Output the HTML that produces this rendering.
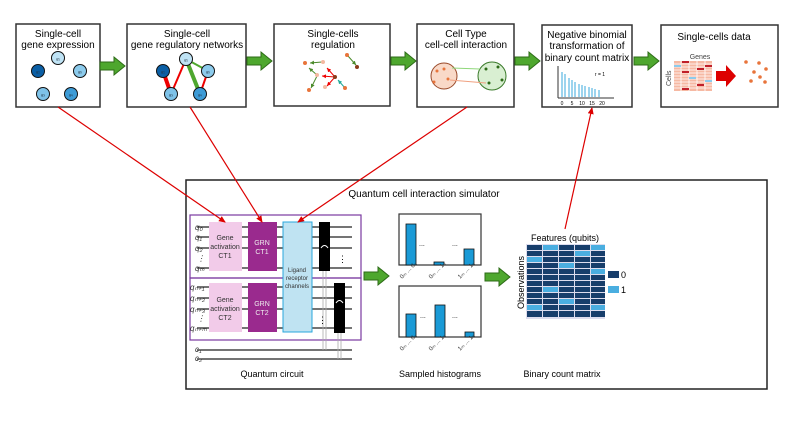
<!DOCTYPE html>
<html><head><meta charset="utf-8"><style>
body{margin:0;background:#fff;}
svg{display:block;font-family:"Liberation Sans",sans-serif;}
</style></head><body>
<svg width="793" height="446" viewBox="0 0 793 446" xmlns="http://www.w3.org/2000/svg">
<defs>
<marker id="ar" markerWidth="8" markerHeight="8" refX="6" refY="3" orient="auto" markerUnits="userSpaceOnUse"><path d="M0,0 L7,3 L0,6 Z" fill="#d00"/></marker>
<marker id="sm" markerWidth="5" markerHeight="5" refX="4" refY="2" orient="auto" markerUnits="userSpaceOnUse"><path d="M0,0 L4,2 L0,4 Z" fill="context-stroke"/></marker>
<g id="garr"><path d="M0,-4 L14,-4 L14,-9 L25,0 L14,9 L14,4 L0,4 Z" fill="#4ea72e" stroke="#2d6b17" stroke-width="1"/></g>
</defs>
<g fill="#fff" stroke="#333" stroke-width="1.5">
<rect x="16" y="24" width="84" height="83"/>
<rect x="127" y="24" width="119" height="83"/>
<rect x="274" y="24" width="116" height="82"/>
<rect x="417" y="24" width="97" height="83"/>
<rect x="542" y="25" width="90" height="82"/>
<rect x="661" y="25" width="117" height="82"/>
</g>
<use href="#garr" x="100" y="66"/><use href="#garr" x="247" y="61"/><use href="#garr" x="391" y="61"/><use href="#garr" x="515" y="61"/><use href="#garr" x="634" y="61"/>
<g font-size="10" text-anchor="middle" fill="#000">
<text x="58" y="37">Single-cell</text><text x="58" y="48">gene expression</text>
<text x="187" y="37">Single-cell</text><text x="187" y="48">gene regulatory networks</text>
<text x="333" y="37">Single-cells</text><text x="333" y="48">regulation</text>
<text x="466" y="37">Cell Type</text><text x="466" y="48">cell-cell interaction</text>
<text x="587" y="38">Negative binomial</text><text x="587" y="49">transformation of</text><text x="587" y="61">binary count matrix</text>
<text x="714" y="40">Single-cells data</text>
</g>
<g stroke="#111" stroke-width="1">
<circle cx="58" cy="58" r="6.5" fill="#bfe3f5"/><circle cx="38" cy="71" r="6.5" fill="#0b5fa5"/><circle cx="80" cy="71" r="6.5" fill="#8ccbec"/>
<circle cx="43" cy="94" r="6.5" fill="#7ec2e8"/><circle cx="71" cy="94" r="6.5" fill="#3d9bd6"/>
</g>
<g stroke-linecap="round">
<line x1="163" y1="71" x2="171" y2="94" stroke="#e00" stroke-width="4"/>
<line x1="171" y1="94" x2="186" y2="59" stroke="#e00" stroke-width="2"/>
<line x1="186" y1="59" x2="200" y2="94" stroke="#4ea72e" stroke-width="4"/>
<line x1="186" y1="59" x2="208" y2="71" stroke="#4ea72e" stroke-width="2"/>
<line x1="208" y1="71" x2="200" y2="94" stroke="#e00" stroke-width="2"/>
</g>
<g stroke="#111" stroke-width="1">
<circle cx="186" cy="59" r="6.5" fill="#bfe3f5"/><circle cx="163" cy="71" r="6.5" fill="#0b5fa5"/><circle cx="208" cy="71" r="6.5" fill="#8ccbec"/>
<circle cx="171" cy="94" r="6.5" fill="#7ec2e8"/><circle cx="200" cy="94" r="6.5" fill="#3d9bd6"/>
</g>
<g font-size="4" font-style="italic" text-anchor="middle" fill="#234">
<text x="58" y="60">g₁</text><text x="38" y="73">g₂</text><text x="80" y="73">g₅</text><text x="43" y="96">g₃</text><text x="71" y="96">g₄</text>
<text x="186" y="61">g₁</text><text x="163" y="73">g₂</text><text x="208" y="73">g₅</text><text x="171" y="96">g₃</text><text x="200" y="96">g₄</text>
</g>
<g stroke-width="1">
<line x1="322" y1="62" x2="310" y2="63" stroke="#4a8a2a" marker-end="url(#sm)"/>
<line x1="317" y1="75" x2="309" y2="68" stroke="#4a8a2a" marker-end="url(#sm)"/>
<line x1="335" y1="77" x2="327" y2="68" stroke="#e00" marker-end="url(#sm)"/>
<line x1="335" y1="77" x2="322" y2="76" stroke="#e00" marker-end="url(#sm)"/>
<line x1="335" y1="77" x2="327" y2="86" stroke="#e00" marker-end="url(#sm)"/>
<line x1="317" y1="76" x2="311" y2="88" stroke="#4a8a2a" marker-end="url(#sm)"/>
<line x1="345" y1="88" x2="338" y2="80" stroke="#2a9" marker-end="url(#sm)"/>
<line x1="348" y1="56" x2="356" y2="65" stroke="#4a8a2a" marker-end="url(#sm)"/>
</g>
<g fill="#e8743b"><circle cx="305" cy="63" r="2"/><circle cx="323" cy="62" r="2" fill="#f4b8a0"/><circle cx="317" cy="75" r="2" fill="#f4b8a0"/><circle cx="335" cy="77" r="2" fill="#8b3a1a"/><circle cx="325" cy="87" r="2" fill="#f4b8a0"/><circle cx="309" cy="90" r="2"/><circle cx="345" cy="88" r="2"/><circle cx="347" cy="55" r="2"/><circle cx="357" cy="67" r="2" fill="#8b3a1a"/></g>
<circle cx="444" cy="76" r="13" fill="#f9d9c8" stroke="#9a4a2a"/>
<circle cx="492" cy="76" r="14" fill="#d9efd2" stroke="#3a7a2a"/>
<line x1="480" y1="69" x2="452" y2="68" stroke="#8fd77a" stroke-width="1"/>
<line x1="450" y1="80" x2="486" y2="83" stroke="#f0a080" stroke-width="1"/>
<g fill="#e8743b"><circle cx="437" cy="71" r="1.5"/><circle cx="444" cy="69" r="1.5"/><circle cx="448" cy="79" r="1.5"/><circle cx="434" cy="82" r="1.5"/></g>
<g fill="#2d6b17"><circle cx="486" cy="69" r="1.5"/><circle cx="498" cy="67" r="1.5"/><circle cx="502" cy="80" r="1.5"/><circle cx="489" cy="83" r="1.5"/></g>
<line x1="558" y1="66" x2="558" y2="98" stroke="#333"/><line x1="558" y1="98" x2="614" y2="98" stroke="#333"/>
<g stroke="#3aa9dc" stroke-width="1">
<line x1="562" y1="72" x2="562" y2="97"/><line x1="565" y1="74" x2="565" y2="97"/><line x1="569" y1="78" x2="569" y2="97"/><line x1="572" y1="80" x2="572" y2="97"/><line x1="575" y1="82" x2="575" y2="97"/><line x1="579" y1="84" x2="579" y2="97"/><line x1="582" y1="85" x2="582" y2="97"/><line x1="585" y1="86" x2="585" y2="97"/><line x1="589" y1="87" x2="589" y2="97"/><line x1="592" y1="88" x2="592" y2="97"/><line x1="595" y1="89" x2="595" y2="97"/><line x1="599" y1="90" x2="599" y2="97"/>
</g>
<text x="600" y="76" font-size="5" text-anchor="middle">r = 1</text>
<g font-size="5" text-anchor="middle"><text x="562" y="105">0</text><text x="572" y="105">5</text><text x="582" y="105">10</text><text x="592" y="105">15</text><text x="602" y="105">20</text></g>
<text x="700" y="59" font-size="7" fill="#444" text-anchor="middle">Genes</text>
<text x="0" y="0" font-size="7" fill="#444" transform="translate(671,86) rotate(-90)">Cells</text>
<g>
<rect x="674" y="61" width="38" height="30" fill="#f6b9a3"/>
<g stroke="#fff" stroke-width="0.8"><line x1="674" y1="64" x2="712" y2="64"/><line x1="674" y1="67" x2="712" y2="67"/><line x1="674" y1="70" x2="712" y2="70"/><line x1="674" y1="73" x2="712" y2="73"/><line x1="674" y1="76" x2="712" y2="76"/><line x1="674" y1="79" x2="712" y2="79"/><line x1="674" y1="82" x2="712" y2="82"/><line x1="674" y1="85" x2="712" y2="85"/><line x1="674" y1="88" x2="712" y2="88"/><line x1="681" y1="61" x2="681" y2="91"/><line x1="689" y1="61" x2="689" y2="91"/><line x1="697" y1="61" x2="697" y2="91"/><line x1="705" y1="61" x2="705" y2="91"/></g>
<rect x="682" y="61" width="7" height="2" fill="#c0202a"/><rect x="697" y="68" width="7" height="2" fill="#c0202a"/><rect x="682" y="71" width="7" height="2" fill="#c0202a"/><rect x="705" y="65" width="7" height="2" fill="#c0202a"/><rect x="674" y="65" width="7" height="2" fill="#8ccbec"/><rect x="689" y="77" width="7" height="2" fill="#8ccbec"/><rect x="705" y="80" width="7" height="2" fill="#8ccbec"/><rect x="682" y="88" width="7" height="2" fill="#c0202a"/><rect x="697" y="84" width="7" height="2" fill="#c0202a"/>
</g>
<path d="M716,71 L726,71 L726,65 L736,76 L726,87 L726,81 L716,81 Z" fill="#d00"/>
<g fill="#e8743b"><circle cx="746" cy="62" r="1.8"/><circle cx="759" cy="63" r="1.8"/><circle cx="766" cy="69" r="1.8"/><circle cx="754" cy="72" r="1.8"/><circle cx="760" cy="77" r="1.8"/><circle cx="751" cy="81" r="1.8"/><circle cx="765" cy="82" r="1.8"/></g>
<rect x="186" y="180" width="581" height="209" fill="none" stroke="#222" stroke-width="1.5"/>
<text x="424" y="197" font-size="10" text-anchor="middle">Quantum cell interaction simulator</text>
<g stroke="#222" stroke-width="1.2">
<line x1="197" y1="227" x2="352" y2="227"/><line x1="197" y1="237" x2="352" y2="237"/><line x1="197" y1="248" x2="352" y2="248"/><line x1="197" y1="268" x2="352" y2="268"/>
<line x1="197" y1="287" x2="352" y2="287"/><line x1="197" y1="298" x2="352" y2="298"/><line x1="197" y1="309" x2="352" y2="309"/><line x1="197" y1="328" x2="352" y2="328"/>
<line x1="197" y1="350" x2="352" y2="350"/><line x1="197" y1="359" x2="352" y2="359"/>
</g>
<rect x="190" y="215" width="171" height="63" fill="none" stroke="#7a3aa0" stroke-width="1.2"/>
<rect x="190" y="278" width="171" height="62" fill="none" stroke="#7a3aa0" stroke-width="1.2"/>
<rect x="209" y="222" width="33" height="49" fill="#f2cbe9"/>
<rect x="209" y="283" width="33" height="49" fill="#f2cbe9"/>
<rect x="248" y="222" width="29" height="49" fill="#9a2a8e"/>
<rect x="248" y="283" width="29" height="49" fill="#9a2a8e"/>
<rect x="283" y="222" width="29" height="110" fill="#bfe3f2" stroke="#29a7dc" stroke-width="1"/>
<rect x="319" y="222" width="11" height="49" fill="#000"/>
<rect x="334" y="283" width="11" height="50" fill="#000"/>
<g stroke="#aaa" stroke-width="0.8"><line x1="323" y1="271" x2="323" y2="350"/><line x1="326" y1="271" x2="326" y2="350"/><line x1="338" y1="333" x2="338" y2="359"/><line x1="341" y1="333" x2="341" y2="359"/></g>
<path d="M321,248 Q324.5,243 328,248" fill="none" stroke="#fff"/><path d="M336,303 Q339.5,298 343,303" fill="none" stroke="#fff"/>
<g font-size="7" text-anchor="middle" fill="#333">
<text x="225" y="240">Gene</text><text x="225" y="249">activation</text><text x="225" y="258">CT1</text>
<text x="225" y="302">Gene</text><text x="225" y="311">activation</text><text x="225" y="320">CT2</text>
<text x="262" y="245" fill="#eee">GRN</text><text x="262" y="254" fill="#eee">CT1</text>
<text x="262" y="306" fill="#eee">GRN</text><text x="262" y="315" fill="#eee">CT2</text>
<text x="297" y="272" font-size="6">Ligand</text><text x="297" y="280" font-size="6">receptor</text><text x="297" y="288" font-size="6">channels</text>
</g>
<g font-size="8" font-style="italic" fill="#333">
<text x="195" y="230">q₀</text><text x="195" y="240">q₁</text><text x="195" y="251">q₂</text><text x="197" y="261">⋮</text><text x="195" y="271">qₘ</text>
<text x="190" y="290">qₙ₊₁</text><text x="190" y="301">qₙ₊₂</text><text x="190" y="312">qₙ₊₃</text><text x="197" y="321">⋮</text><text x="190" y="331">qₙ₊ₘ</text>
<text x="195" y="352">c₁</text><text x="195" y="361">c₂</text>
</g>
<text x="338" y="262" font-size="9">⋮</text><text x="318" y="323" font-size="9">⋮</text>
<text x="272" y="377" font-size="9" text-anchor="middle">Quantum circuit</text>
<use href="#garr" x="364" y="276"/>
<rect x="399" y="214" width="82" height="51" fill="#fff" stroke="#333" stroke-width="1.2"/>
<rect x="399" y="286" width="82" height="51" fill="#fff" stroke="#333" stroke-width="1.2"/>
<g fill="#1a9ad6" stroke="#111" stroke-width="0.8">
<rect x="406" y="224" width="10" height="41"/><rect x="434" y="262" width="10" height="3"/><rect x="464" y="249" width="10" height="16"/>
<rect x="406" y="314" width="10" height="23"/><rect x="435" y="305" width="10" height="32"/><rect x="465" y="332" width="9" height="5"/>
</g>
<g font-size="7"><text x="419" y="246">...</text><text x="452" y="246">...</text><text x="420" y="318">...</text><text x="452" y="318">...</text></g>
<g font-size="6" fill="#333">
<text transform="translate(402,279) rotate(-45)">0ₘ ... 0₀</text><text transform="translate(431,279) rotate(-45)">0ₘ ... 1₀</text><text transform="translate(460,279) rotate(-45)">1ₘ ... 1₀</text>
<text transform="translate(402,351) rotate(-45)">0ₘ ... 0₀</text><text transform="translate(431,351) rotate(-45)">0ₘ ... 1₀</text><text transform="translate(460,351) rotate(-45)">1ₘ ... 1₀</text>
</g>
<text x="440" y="377" font-size="9" text-anchor="middle">Sampled histograms</text>
<use href="#garr" x="485" y="277"/>
<text x="565" y="241" font-size="9" text-anchor="middle">Features (qubits)</text>
<text transform="translate(524,309) rotate(-90)" font-size="9">Observations</text>
<rect x="526" y="244" width="79" height="75" fill="#dde"/>
<g fill="#173e6b">
<rect x="527" y="245" width="15" height="5"/><rect x="543" y="245" width="15" height="5" fill="#4aaee0"/><rect x="559" y="245" width="15" height="5"/><rect x="575" y="245" width="15" height="5"/><rect x="591" y="245" width="14" height="5" fill="#4aaee0"/>
<rect x="527" y="251" width="15" height="5"/><rect x="543" y="251" width="15" height="5"/><rect x="559" y="251" width="15" height="5"/><rect x="575" y="251" width="15" height="5" fill="#4aaee0"/><rect x="591" y="251" width="14" height="5"/>
<rect x="527" y="257" width="15" height="5" fill="#4aaee0"/><rect x="543" y="257" width="15" height="5"/><rect x="559" y="257" width="15" height="5"/><rect x="575" y="257" width="15" height="5"/><rect x="591" y="257" width="14" height="5"/>
<rect x="527" y="263" width="15" height="5"/><rect x="543" y="263" width="15" height="5"/><rect x="559" y="263" width="15" height="5" fill="#4aaee0"/><rect x="575" y="263" width="15" height="5"/><rect x="591" y="263" width="14" height="5"/>
<rect x="527" y="269" width="15" height="5"/><rect x="543" y="269" width="15" height="5"/><rect x="559" y="269" width="15" height="5"/><rect x="575" y="269" width="15" height="5"/><rect x="591" y="269" width="14" height="5" fill="#4aaee0"/>
<rect x="527" y="275" width="78" height="5"/>
<rect x="527" y="281" width="78" height="5"/>
<rect x="527" y="287" width="15" height="5"/><rect x="543" y="287" width="15" height="5" fill="#4aaee0"/><rect x="559" y="287" width="46" height="5"/>
<rect x="527" y="293" width="78" height="5"/>
<rect x="527" y="299" width="31" height="5"/><rect x="559" y="299" width="15" height="5" fill="#4aaee0"/><rect x="575" y="299" width="30" height="5"/>
<rect x="527" y="305" width="15" height="5" fill="#4aaee0"/><rect x="543" y="305" width="47" height="5"/><rect x="591" y="305" width="14" height="5" fill="#4aaee0"/>
<rect x="527" y="311" width="78" height="6"/>
</g>
<g stroke="#dde" stroke-width="1"><line x1="542.5" y1="275" x2="542.5" y2="318"/><line x1="558.5" y1="275" x2="558.5" y2="318"/><line x1="574.5" y1="275" x2="574.5" y2="318"/><line x1="590.5" y1="275" x2="590.5" y2="318"/></g>
<rect x="608" y="271" width="11" height="7" fill="#173e6b"/><text x="621" y="278" font-size="9">0</text>
<rect x="608" y="286" width="11" height="7" fill="#4aaee0"/><text x="621" y="293" font-size="9">1</text>
<text x="562" y="377" font-size="9" text-anchor="middle">Binary count matrix</text>
<g stroke="#d00" stroke-width="1.2" fill="none">
<line x1="58" y1="107" x2="225" y2="222" marker-end="url(#ar)"/>
<line x1="190" y1="107" x2="262" y2="222" marker-end="url(#ar)"/>
<line x1="467" y1="107" x2="298" y2="222" marker-end="url(#ar)"/>
<line x1="565" y1="229" x2="592" y2="108" marker-end="url(#ar)"/>
</g>
</svg>
</body></html>
